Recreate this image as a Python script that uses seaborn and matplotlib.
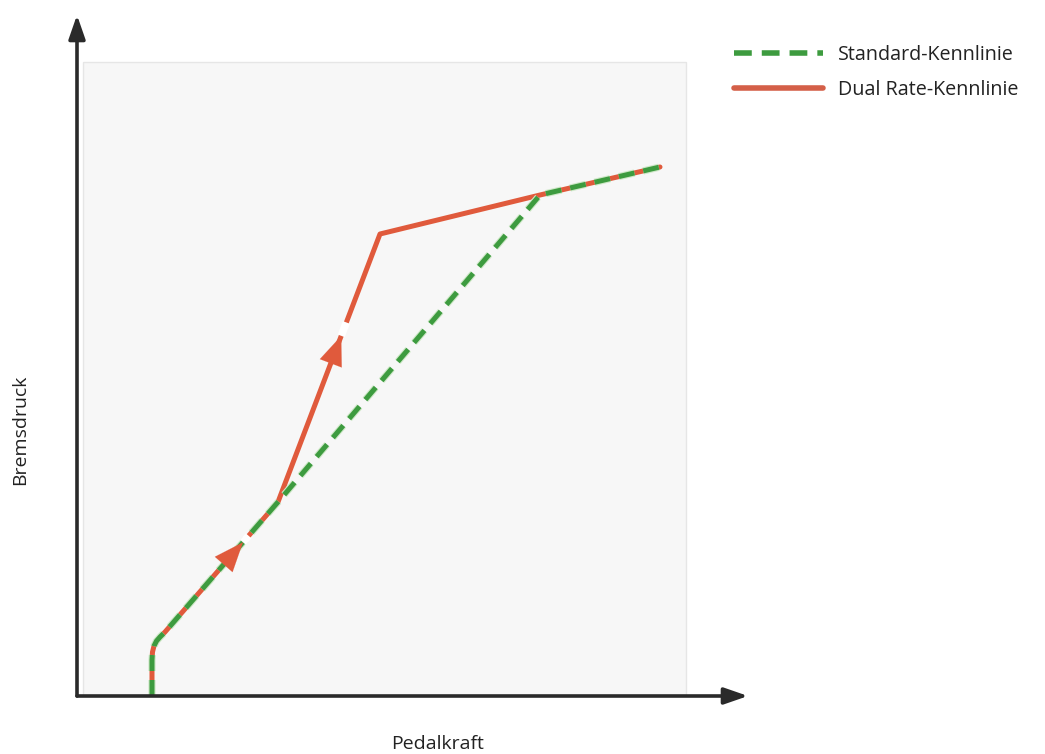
import pandas as pd
import matplotlib.pyplot as plt
import matplotlib.patheffects as pe
from matplotlib.patches import Rectangle
from matplotlib.lines import Line2D
import seaborn as sns

# Kennlinien (Pedalkraft -> Bremsdruck), no units in the original
start_x = [75, 75, 75.5, 77, 79.5, 83, 88, 201]
start_y = [0, 36, 44, 50, 55, 59, 64, 194]
standard_x = [201, 463, 583]
standard_y = [194, 501, 529]
dual_x = [201, 303, 463, 583]
dual_y = [194, 462, 501, 529]

std_df = pd.DataFrame({'Pedalkraft': start_x + standard_x[1:],
                       'Bremsdruck': start_y + standard_y[1:]})
dual_df = pd.DataFrame({'Pedalkraft': start_x + dual_x[1:],
                        'Bremsdruck': start_y + dual_y[1:]})

red = '#e05a3c'
green = '#3d9b3f'

sns.set_style('white')
plt.rcParams['font.family'] = ['Open Sans', 'DejaVu Sans']

fig = plt.figure(figsize=(10.45, 7.54), dpi=100)
ax = fig.add_axes([77 / 1045, 58 / 754, 671 / 1045, 681 / 754])
ax.set_xlim(0, 671)
ax.set_ylim(0, 681)

# light plot area
ax.add_patch(Rectangle((6, 0), 603, 634, facecolor='#f7f7f7',
                       edgecolor='#e6e6e6', lw=1, zorder=0))

sns.lineplot(data=dual_df, x='Pedalkraft', y='Bremsdruck', sort=False,
             estimator=None, ax=ax, color=red, lw=3.6, zorder=2,
             solid_joinstyle='round')
sns.lineplot(data=std_df, x='Pedalkraft', y='Bremsdruck', sort=False,
             estimator=None, ax=ax, color=green, lw=3.6, zorder=3)
ax.lines[-1].set_dashes([3.2, 1.8])
ax.lines[-1].set_path_effects([pe.Stroke(linewidth=5.2, foreground='#cfe8c8'),
                               pe.Normal()])


def line_arrow(x0, y0, x1, y1, frac):
    # arrowhead sitting on a segment with a small white gap in front of it
    dx, dy = x1 - x0, y1 - y0
    tip = (x0 + dx * frac, y0 + dy * frac)
    base = (x0 + dx * (frac - 0.2), y0 + dy * (frac - 0.2))
    gap = (x0 + dx * (frac + 0.05), y0 + dy * (frac + 0.05))
    ax.plot([tip[0], gap[0]], [tip[1], gap[1]], color='white', lw=5.5,
            zorder=4, solid_capstyle='butt')
    ax.annotate('', xy=tip, xytext=base, zorder=5,
                arrowprops=dict(arrowstyle='-|>,head_length=1.05,head_width=0.42',
                                color=red, lw=0.1,
                                mutation_scale=20, shrinkA=0, shrinkB=0))


line_arrow(start_x[6], start_y[6], start_x[7], start_y[7], 0.69)
line_arrow(dual_x[0], dual_y[0], dual_x[1], dual_y[1], 0.62)

# axes with arrow heads
for sp in ax.spines.values():
    sp.set_visible(False)
ax.set_xticks([])
ax.set_yticks([])
ax.set_xlabel('')
ax.set_ylabel('')
arrow_kw = dict(arrowstyle='-|>,head_length=0.72,head_width=0.25', color='#2a2a2a',
                lw=2.6, mutation_scale=20, shrinkA=0, shrinkB=0)
ax.annotate('', xy=(671, 0), xytext=(0, 0), arrowprops=arrow_kw,
            annotation_clip=False)
ax.annotate('', xy=(0, 681), xytext=(0, 0), arrowprops=arrow_kw,
            annotation_clip=False)

fig.text(438 / 1045, 1 - 744 / 754, 'Pedalkraft', ha='center', va='center',
         fontsize=14, color='#222222')
fig.text(20 / 1045, 1 - 430 / 754, 'Bremsdruck', ha='center', va='center',
         rotation=90, fontsize=14, color='#222222')

# legend
h_std = Line2D([], [], color=green, lw=4, dashes=[3.2, 1.8])
h_dual = Line2D([], [], color='#d45f48', lw=4)
fig.legend([h_std, h_dual], ['Standard-Kennlinie', 'Dual Rate-Kennlinie'],
           loc='upper left', bbox_to_anchor=(716 / 1045, 1 - 27 / 754),
           frameon=False, fontsize=14.2, handlelength=4.5, handletextpad=0.8,
           labelspacing=0.75, labelcolor='#222222')

fig.savefig('out.png', dpi=100)
